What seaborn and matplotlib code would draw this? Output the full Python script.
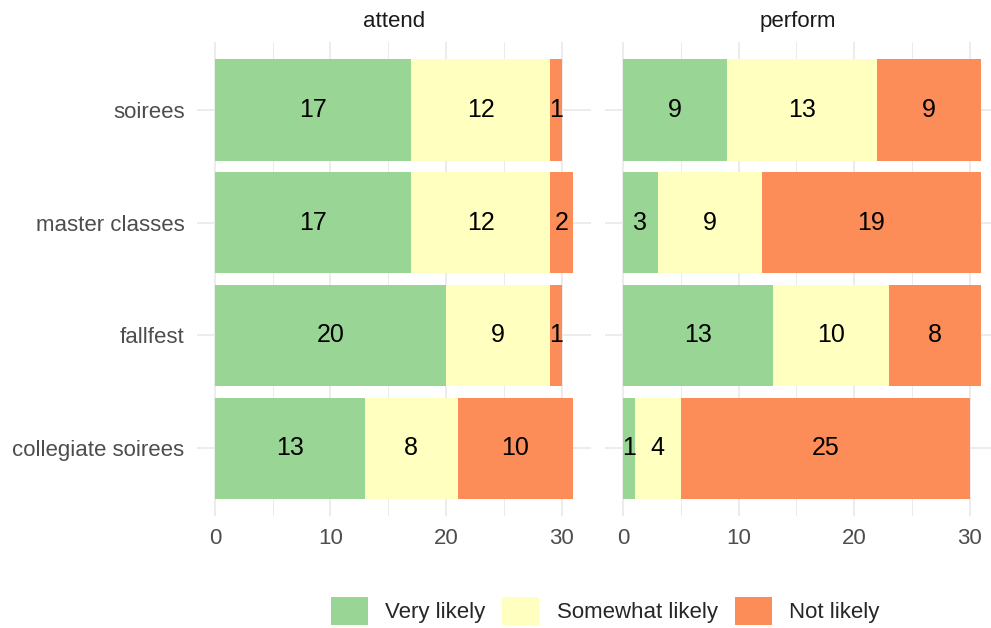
import matplotlib
matplotlib.use('Agg')
import matplotlib.pyplot as plt
from matplotlib.patches import Patch
from matplotlib.ticker import MultipleLocator
import numpy as np
import pandas as pd
import seaborn as sns

sns.set_style("white")
plt.rcParams['font.family'] = ['Liberation Sans', 'DejaVu Sans']

# data
events = ['soirees', 'master classes', 'fallfest', 'collegiate soirees']
levels = ['Very likely', 'Somewhat likely', 'Not likely']
colors = ['#99d594', '#ffffbf', '#fc8d59']

attend_very = [17, 17, 20, 13]
attend_somewhat = [12, 12, 9, 8]
attend_not = [1, 2, 1, 10]

perform_very = [9, 3, 13, 1]
perform_somewhat = [13, 9, 10, 4]
perform_not = [9, 19, 8, 25]

panels = {
    'attend': [attend_very, attend_somewhat, attend_not],
    'perform': [perform_very, perform_somewhat, perform_not],
}

fig = plt.figure(figsize=(9.91, 6.28), dpi=100)
W, H = 991, 628
scale = 394 / 34.1  # px per unit
boxes = {
    'attend': (197, 394, (-1.55, 32.55)),
    'perform': (605, 386, (-1.56, -1.56 + 386 / scale)),
}
top, bottom = 42, 516

for name, series in panels.items():
    left, width, xlim = boxes[name]
    ax = fig.add_axes([left / W, 1 - bottom / H, width / W, (bottom - top) / H])
    vals = np.array(series)
    cum = vals.cumsum(axis=0)
    # draw stacked bars back to front
    for i in reversed(range(3)):
        df = pd.DataFrame({'event': events, 'value': cum[i]})
        sns.barplot(data=df, x='value', y='event', orient='h', color=colors[i],
                    width=0.9, linewidth=0, saturation=1, ax=ax, zorder=2)
    for i in range(3):
        for j in range(len(events)):
            ax.text(cum[i][j] - vals[i][j] / 2, j, str(vals[i][j]),
                    ha='center', va='center', fontsize=18, color='black', zorder=3)
    ax.set_xlim(*xlim)
    ax.set_ylim(3.6, -0.6)
    ax.set_xticks([0, 10, 20, 30])
    ax.xaxis.set_minor_locator(MultipleLocator(5))
    ax.set_axisbelow(True)
    ax.grid(which='major', color='#ebebeb', lw=1.3)
    ax.grid(which='minor', axis='x', color='#ebebeb', lw=0.7)
    for s in ax.spines.values():
        s.set_visible(False)
    ax.tick_params(which='both', length=0, labelsize=16, labelcolor='#4d4d4d')
    ax.tick_params(axis='y', pad=9)
    ax.tick_params(axis='x', pad=9)
    ax.set_xlabel('')
    ax.set_ylabel('')
    if name == 'perform':
        ax.tick_params(labelleft=False)
    ax.set_title(name, fontsize=16, color='#1a1a1a', pad=11)

handles = [Patch(facecolor=c, edgecolor='none', label=l) for c, l in zip(colors, levels)]
fig.legend(handles=handles, loc='center', bbox_to_anchor=(605 / W, 1 - 611 / H),
           ncol=3, frameon=False, fontsize=16, handlelength=1.67, handleheight=1.6,
           handletextpad=0.77, columnspacing=0.77, borderpad=0)

fig.savefig('out.png', dpi=100)
